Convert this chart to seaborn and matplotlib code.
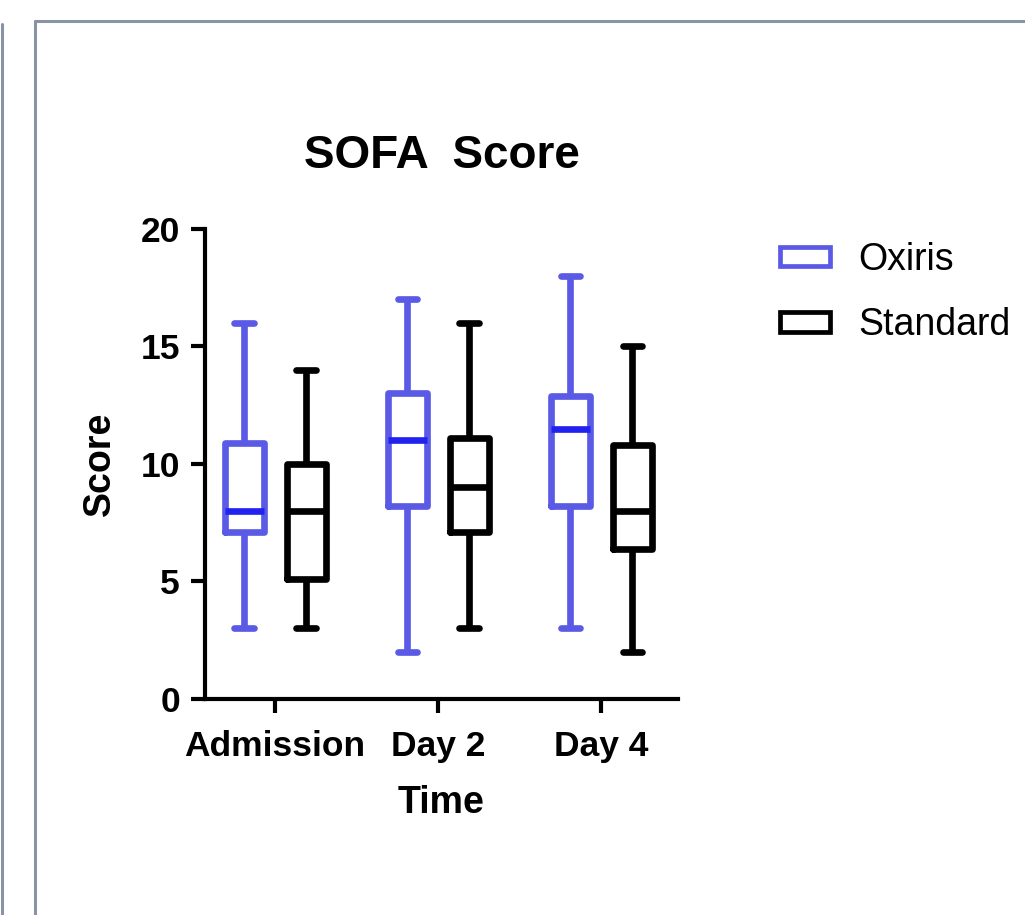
import matplotlib
matplotlib.use("Agg")
import matplotlib.pyplot as plt
from matplotlib.patches import Patch
from matplotlib.lines import Line2D
import seaborn as sns
import pandas as pd

# ---- data (five-number summaries) ----
times = ["Admission", "Day 2", "Day 4"]
groups = ["Oxiris", "Standard"]

oxiris_min = [3, 2, 3]
oxiris_q1 = [7.1, 8.2, 8.2]
oxiris_median = [8, 11, 11.5]
oxiris_q3 = [10.9, 13, 12.9]
oxiris_max = [16, 17, 18]

standard_min = [3, 3, 2]
standard_q1 = [5.1, 7.1, 6.4]
standard_median = [8, 9, 8]
standard_q3 = [10, 11.1, 10.8]
standard_max = [14, 16, 15]

y_ticks = [0, 5, 10, 15, 20]

colors = {"Oxiris": "#5A5AE6", "Standard": "#000000"}
median_blue = "#2222F0"

rows = []
for g, stats in [("Oxiris", (oxiris_min, oxiris_q1, oxiris_median, oxiris_q3, oxiris_max)),
                 ("Standard", (standard_min, standard_q1, standard_median, standard_q3, standard_max))]:
    for i, t in enumerate(times):
        for s in stats:
            rows.append({"Time": t, "Group": g, "Score": s[i]})
df = pd.DataFrame(rows)

sns.set_theme(style="white")
plt.rcParams["font.family"] = ["Liberation Sans", "DejaVu Sans"]
plt.rcParams["text.color"] = "black"

fig = plt.figure(figsize=(10.25, 9.15), dpi=100)
fig.patch.set_facecolor("white")
ax = fig.add_axes([0.2, 0.2361, 0.4615, 0.5137])

lw = 4.8
sns.boxplot(data=df, x="Time", y="Score", hue="Group", order=times, hue_order=groups,
            palette=colors, fill=False, whis=(0, 100), width=0.76, gap=0.37,
            linewidth=lw, showfliers=False, legend=False, ax=ax)

# darker median for Oxiris
for ln in ax.lines:
    xd, yd = ln.get_xdata(), ln.get_ydata()
    if len(xd) == 2 and yd[0] == yd[1] and abs(xd[1] - xd[0]) > 0.2:
        c = matplotlib.colors.to_hex(ln.get_color())
        if c.lower() == colors["Oxiris"].lower():
            ln.set_color(median_blue)

ax.set_xlim(-0.43, 2.47)
ax.set_ylim(0, 20)
ax.set_yticks(y_ticks)
ax.set_yticklabels([str(v) for v in y_ticks])

for side in ["top", "right"]:
    ax.spines[side].set_visible(False)
for side in ["left", "bottom"]:
    ax.spines[side].set_color("black")
    ax.spines[side].set_linewidth(3)

ax.tick_params(axis="both", direction="out", length=10, width=3, color="black",
               labelsize=25.5, labelcolor="black", pad=8)
ax.tick_params(axis="y", left=True)
ax.tick_params(axis="x", bottom=True, pad=12)
for lab in ax.get_xticklabels() + ax.get_yticklabels():
    lab.set_fontweight("bold")

ax.set_xlabel("Time", fontsize=27, fontweight="bold", labelpad=16, color="black")
ax.set_ylabel("Score", fontsize=27, fontweight="bold", labelpad=16, color="black")
ax.set_title("SOFA  Score", fontsize=33, fontweight="bold", pad=44, color="black")
ax.grid(False)

handles = [Patch(facecolor="white", edgecolor=colors[g], linewidth=3.4, label=g) for g in groups]
fig.legend(handles=handles, labels=groups, loc="upper left",
           bbox_to_anchor=(780 / 1025, 1 - 242 / 915), frameon=False,
           fontsize=27, handlelength=1.33, handleheight=0.42, handletextpad=0.75,
           labelspacing=0.78, borderpad=0, borderaxespad=0, labelcolor="black")

# grey panel frame of the screenshot
grey = "#8A93A5"
W, H = 1025, 915
fig.add_artist(Line2D([2 / W, 2 / W], [0, 1 - 24 / H], transform=fig.transFigure, color=grey, lw=2.2))
fig.add_artist(Line2D([35 / W, 35 / W], [0, 1 - 21 / H], transform=fig.transFigure, color=grey, lw=2.2))
fig.add_artist(Line2D([35 / W, 1], [1 - 21 / H, 1 - 21 / H], transform=fig.transFigure, color=grey, lw=2.2))

fig.savefig("out.png", dpi=100, facecolor="white")
